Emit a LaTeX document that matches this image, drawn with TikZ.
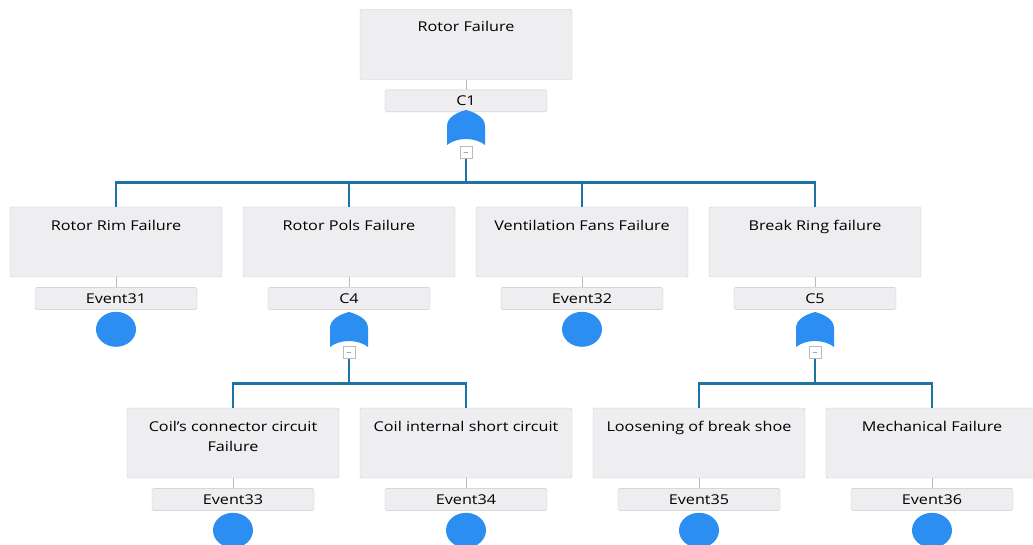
\documentclass[tikz,border=0pt]{standalone}
\usepackage{fontspec}
\setmainfont{Open Sans}[FakeStretch=1.2]
\usetikzlibrary{positioning,shapes.geometric}

\definecolor{boxfill}{RGB}{238,238,240}
\definecolor{boxline}{RGB}{200,200,206}
\definecolor{gateblue}{RGB}{43,142,240}
\definecolor{linkblue}{RGB}{28,115,165}

\tikzset{
	eventbox/.style={draw=boxline, fill=boxfill, rounded corners=2pt, minimum width=212pt, minimum height=70pt, inner sep=0pt},
	tagbox/.style={draw=boxline, fill=boxfill, rounded corners=1.5pt, minimum width=162pt, minimum height=22pt, inner sep=0pt, font=\fontsize{13.5}{15}\selectfont},
	lbl/.style={font=\fontsize{13.5}{20}\selectfont, align=center, anchor=north, inner sep=0pt},
	basic/.style={ellipse, fill=gateblue, minimum width=40pt, minimum height=35pt, inner sep=0pt},
	minusbox/.style={draw=boxline!80!gray, fill=white, minimum width=12pt, minimum height=12pt, inner sep=0pt, font=\fontsize{7}{7}\selectfont},
	link/.style={draw=linkblue, line width=2.6pt},
	stub/.style={draw=boxline!80!gray, line width=1pt}
}

% or-gate with its top point at (#1,#2)
\newcommand{\orgate}[2]{
	\fill[gateblue, shift={(#1,#2)}] (-19,35) -- (-19,16) .. controls (-19,7) and (-8,2) .. (0,0)
		.. controls (8,2) and (19,7) .. (19,16) -- (19,35) .. controls (9,27) and (-9,27) .. (-19,35) -- cycle;
}

\begin{document}
\begin{tikzpicture}[x=1pt, y=-1pt]
\useasboundingbox (0,0) rectangle (1033,545);

% top event
\node[eventbox] (top) at (466,44.5) {};
\node[lbl] at ([yshift=-12pt]top.north) {Rotor Failure};
\node[tagbox, below=10pt of top] (c1) {C1};
\draw[stub] (top.south) -- (c1.north);
\orgate{466}{110}
\node[minusbox] (m1) at (466,152.5) {$-$};

% second level
\foreach \n/\x/\t in {rim/116/Rotor Rim Failure, pols/349/Rotor Pols Failure, fans/582/Ventilation Fans Failure, ring/815/Break Ring failure}{
	\node[eventbox] (\n) at (\x,242) {};
	\node[lbl] at ([yshift=-13pt]\n.north) {\t};
	\draw[link] (m1.south) -- ++(0,24) -| (\n.north);
}
\foreach \n/\t in {rim/Event31, fans/Event32}{
	\node[tagbox, below=10pt of \n] (\n-tag) {\t};
	\draw[stub] (\n.south) -- (\n-tag.north);
	\node[basic, below=2pt of \n-tag] (\n-ev) {};
}
\foreach \n/\t in {pols/C4, ring/C5}{
	\node[tagbox, below=10pt of \n] (\n-tag) {\t};
	\draw[stub] (\n.south) -- (\n-tag.north);
}
\orgate{349}{312}
\node[minusbox] (m4) at (349,352.5) {$-$};
\orgate{815}{312}
\node[minusbox] (m5) at (815,352.5) {$-$};

% third level
\foreach \n/\x/\t/\g/\e in {conn/233/{Coil's connector circuit\\Failure}/m4/Event33, short/466/Coil internal short circuit/m4/Event34,
	shoe/699/Loosening of break shoe/m5/Event35, mech/932/Mechanical Failure/m5/Event36}{
	\node[eventbox] (\n) at (\x,443) {};
	\node[lbl] at ([yshift=-13pt]\n.north) {\t};
	\draw[link] (\g.south) -- ++(0,25) -| (\n.north);
	\node[tagbox, below=10pt of \n] (\n-tag) {\e};
	\draw[stub] (\n.south) -- (\n-tag.north);
	\node[basic, below=2pt of \n-tag] (\n-ev) {};
}

\end{tikzpicture}
\end{document}
